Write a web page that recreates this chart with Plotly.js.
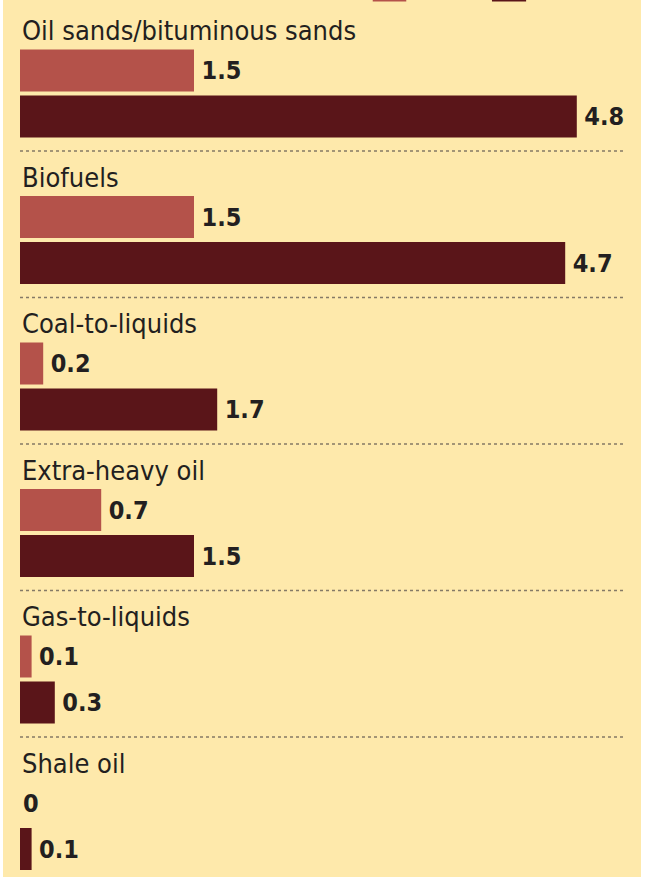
<!DOCTYPE html>
<html>
<head>
<meta charset="utf-8">
<script src="https://cdn.plot.ly/plotly-3.0.1.min.js"></script>
<style>
  html, body { margin: 0; padding: 0; background: #ffffff; }
  #chart { position: absolute; left: 3px; top: 0px; width: 638px; height: 877px; }
</style>
</head>
<body>
<div id="chart"></div>
<script>
// ---- data ----
const categories = [
  "Oil sands/bituminous sands",
  "Biofuels",
  "Coal-to-liquids",
  "Extra-heavy oil",
  "Gas-to-liquids",
  "Shale oil"
];
const seriesA = [1.5, 1.5, 0.2, 0.7, 0.1, 0];   // lighter bars
const seriesB = [4.8, 4.7, 1.7, 1.5, 0.3, 0.1]; // darker bars

// ---- layout helpers (pixel-like y units) ----
const G = 146.5, D0 = 4.5;
const idx = categories.map((_, i) => i);
const yLabel = idx.map(i => D0 + i * G + 26);
const yA = idx.map(i => D0 + i * G + 66);
const yB = idx.map(i => D0 + i * G + 112);

const colA = "#B4524A", colB = "#5A1519";
const fam = "'DejaVu Sans Condensed', 'Liberation Sans Narrow', Arial, sans-serif";
const valFont = { family: fam, size: 25, color: "#231F20", weight: 700 };
const lbl = v => (v === 0 ? "" : "\u2009") + v;

const traces = [
  {
    type: "bar", orientation: "h", name: "A",
    x: seriesA, y: yA, width: 42,
    marker: { color: colA },
    text: seriesA.map(lbl), textposition: "outside",
    textfont: valFont, cliponaxis: false, hoverinfo: "skip"
  },
  {
    type: "bar", orientation: "h", name: "B",
    x: seriesB, y: yB, width: 42,
    marker: { color: colB },
    text: seriesB.map(lbl), textposition: "outside",
    textfont: valFont, cliponaxis: false, hoverinfo: "skip"
  }
];

const annotations = categories.map((c, i) => ({
  text: c, x: 0, xref: "x", y: yLabel[i], yref: "y",
  xanchor: "left", yanchor: "middle", showarrow: false,
  font: { family: fam, size: 27, color: "#231F20" }
}));

const shapes = idx.slice(0, categories.length - 1).map(i => ({
  type: "line", xref: "paper", yref: "y",
  x0: 0, x1: 0.974, y0: D0 + (i + 1) * G, y1: D0 + (i + 1) * G,
  line: { color: "#857A66", width: 1.5, dash: "dot" }
}));
// cropped legend swatches at the very top
shapes.push({ type: "rect", xref: "paper", yref: "y", x0: 0.568, x1: 0.622, y0: -20, y1: 1.5, fillcolor: colA, line: { width: 0 } });
shapes.push({ type: "rect", xref: "paper", yref: "y", x0: 0.760, x1: 0.815, y0: -20, y1: 1.5, fillcolor: colB, line: { width: 0 } });

const layout = {
  width: 638, height: 877,
  margin: { l: 17, r: 0, t: 0, b: 0, pad: 0 },
  paper_bgcolor: "#FEE9AB", plot_bgcolor: "#FEE9AB",
  showlegend: false, barmode: "overlay",
  xaxis: { range: [0, 621 / 116], visible: false, fixedrange: true },
  yaxis: { range: [877, 0], visible: false, fixedrange: true },
  annotations: annotations, shapes: shapes
};

Plotly.newPlot("chart", traces, layout, { staticPlot: true, displayModeBar: false });
</script>
</body>
</html>
